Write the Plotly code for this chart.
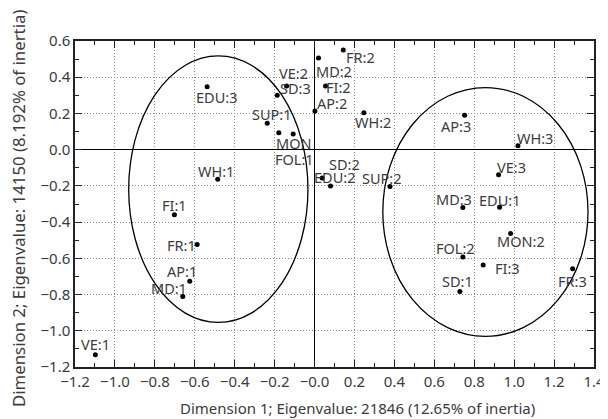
import plotly.graph_objects as go

# ---- data ----
labels = ["EDU:3", "VE:2", "SD:3", "SUP:1", "MON", "FOL:1", "WH:1", "AP:2", "MD:2", "FI:2",
          "FR:2", "WH:2", "AP:3", "WH:3", "VE:3", "SD:2", "EDU:2", "SUP:2", "MD:3", "EDU:1",
          "MON:2", "FOL:2", "FI:3", "FR:3", "SD:1", "FI:1", "FR:1", "AP:1", "MD:1", "VE:1"]
dim1 = [-0.538, -0.187, -0.140, -0.237, -0.179, -0.107, -0.485, 0.002, 0.020, 0.055,
        0.144, 0.247, 0.752, 1.019, 0.922, 0.038, 0.080, 0.378, 0.743, 0.927,
        0.982, 0.743, 0.845, 1.293, 0.728, -0.702, -0.588, -0.625, -0.660, -1.098]
dim2 = [0.348, 0.300, 0.352, 0.146, 0.093, 0.087, -0.163, 0.213, 0.506, 0.352,
        0.550, 0.204, 0.190, 0.022, -0.139, -0.157, -0.200, -0.204, -0.320, -0.318,
        -0.463, -0.593, -0.637, -0.657, -0.783, -0.359, -0.524, -0.726, -0.811, -1.133]

# ellipses (center x, center y, semi-axis x, semi-axis y)
ell_cx = [-0.482, 0.856]
ell_cy = [-0.218, -0.344]
ell_rx = [0.449, 0.514]
ell_ry = [0.736, 0.687]

xtick_vals = [-1.2, -1.0, -0.8, -0.6, -0.4, -0.2, 0.0, 0.2, 0.4, 0.6, 0.8, 1.0, 1.2, 1.4]
xtick_text = ["\u22121.2", "\u22121.0", "\u22120.8", "\u22120.6", "\u22120.4", "\u22120.2", "\u22120.0",
              "0.2", "0.4", "0.6", "0.8", "1.0", "1.2", "1.4"]
ytick_vals = [0.6, 0.4, 0.2, 0.0, -0.2, -0.4, -0.6, -0.8, -1.0, -1.2]
ytick_text = ["0.6", "0.4", "0.2", "0.0", "\u22120.2", "\u22120.4", "\u22120.6", "\u22120.8",
              "\u22121.0", "\u22121.2"]

x_title = "Dimension 1; Eigenvalue: 21846 (12.65% of inertia)"
y_title = "Dimension 2; Eigenvalue: 14150 (8.192% of inertia)"

# label pixel offsets (dx right, dy down) -- styling only
label_offsets = {
    "EDU:3": (9, 10), "VE:2": (16, -22), "SD:3": (9, 2), "SUP:1": (5, -9), "MON": (15, 10),
    "FOL:1": (1, 25), "WH:1": (-2, -8), "AP:2": (17, -8), "MD:2": (15, 13), "FI:2": (13, 1),
    "FR:2": (17, 7), "WH:2": (9, 9), "AP:3": (-9, 11), "WH:3": (17, -8), "VE:3": (13, -8),
    "SD:2": (22, -14), "EDU:2": (4, -9), "SUP:2": (-8, -9), "MD:3": (-9, -9), "EDU:1": (0, -7),
    "MON:2": (10, 7), "FOL:2": (-7, -9), "FI:3": (24, 3), "FR:3": (0, 12), "SD:1": (-2, -10),
    "FI:1": (0, -10), "FR:1": (-16, 0), "AP:1": (-8, -10), "MD:1": (-14, -9), "VE:1": (0, -11),
}

FONT = "Noto Sans"
TXT = "#3c3c3c"

fig = go.Figure()
fig.add_trace(go.Scatter(x=dim1, y=dim2, mode="markers",
                         marker=dict(color="black", size=5), hoverinfo="text", text=labels,
                         showlegend=False))

for lab, x, y in zip(labels, dim1, dim2):
    dx, dy = label_offsets[lab]
    fig.add_annotation(x=x, y=y, text=lab, showarrow=False, xshift=dx, yshift=-dy,
                       font=dict(family=FONT, size=14.5, color=TXT))

for cx, cy, rx, ry in zip(ell_cx, ell_cy, ell_rx, ell_ry):
    fig.add_shape(type="circle", xref="x", yref="y", x0=cx - rx, x1=cx + rx,
                  y0=cy - ry, y1=cy + ry, line=dict(color="black", width=1.3), layer="above")

# axis titles as annotations
fig.add_annotation(xref="paper", yref="paper", x=0.5, y=0, text=x_title, showarrow=False,
                   xanchor="center", yanchor="middle", xshift=23, yshift=-41,
                   font=dict(family=FONT, size=15, color=TXT))
fig.add_annotation(xref="paper", yref="paper", x=0, y=0.5, text=y_title, showarrow=False,
                   textangle=-90, xanchor="center", yanchor="middle", xshift=-57, yshift=-5,
                   font=dict(family=FONT, size=16.8, color=TXT))

axis_common = dict(
    automargin=False,
    showgrid=True, gridcolor="#8c8c8c", griddash="1px,2px", gridwidth=1,
    zeroline=True, zerolinecolor="black", zerolinewidth=1.4,
    showline=True, linecolor="#222222", linewidth=1.5, mirror="ticks",
    ticks="inside", ticklen=7, tickcolor="#222222", tickwidth=1.3,
    tickfont=dict(family=FONT, size=15, color=TXT),
    minor=dict(ticks="inside", ticklen=4, tickcolor="#222222", tickwidth=1.3, showgrid=False),
)

fig.update_xaxes(range=[-1.2, 1.4], tickvals=xtick_vals, ticktext=xtick_text,
                 minor_dtick=0.1, minor_tick0=0, **axis_common)
fig.update_yaxes(range=[-1.2, 0.6], tickvals=ytick_vals, ticktext=ytick_text,
                 minor_dtick=0.1, minor_tick0=0, **axis_common)

# page body adds an 8px margin, so the figure is sized to fill the 608x419 window
fig.update_layout(width=600, height=411, margin=dict(l=67, r=14, t=33, b=52),
                  paper_bgcolor="white", plot_bgcolor="white")

fig.write_html("out.html")
